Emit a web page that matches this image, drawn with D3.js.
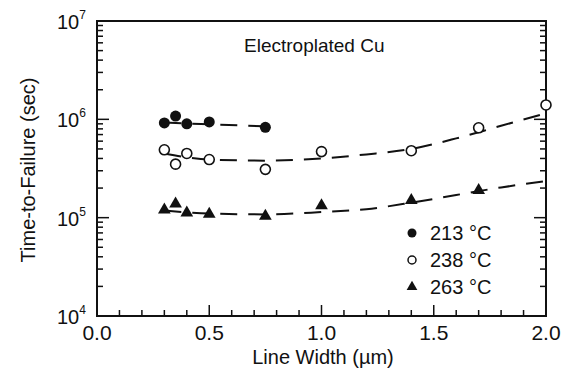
<!DOCTYPE html>
<html>
<head>
<meta charset="utf-8">
<script src="https://cdn.jsdelivr.net/npm/d3@7"></script>
<style>
  body { margin: 0; background: #fff; }
  text { font-family: "Liberation Sans", Arial, sans-serif; fill: #111; }
</style>
</head>
<body>
<svg id="chart"></svg>
<script>
// measured points, line width (um) vs time-to-failure (sec)
let widths213 = [0.3, 0.35, 0.4, 0.5, 0.75];
let ttf213 = [9.2e5, 1.08e6, 9.0e5, 9.4e5, 8.3e5];
let widths238 = [0.3, 0.35, 0.4, 0.5, 0.75, 1.0, 1.4, 1.7, 2.0];
let ttf238 = [4.9e5, 3.5e5, 4.5e5, 3.9e5, 3.1e5, 4.7e5, 4.8e5, 8.2e5, 1.4e6];
let widths263 = [0.3, 0.35, 0.4, 0.5, 0.75, 1.0, 1.4, 1.7];
let ttf263 = [1.2e5, 1.38e5, 1.12e5, 1.09e5, 1.04e5, 1.33e5, 1.5e5, 1.9e5];

// dashed trend curves
let fit213X = [0.3, 0.5, 0.75];
let fit213 = [9.3e5, 8.9e5, 8.5e5];
let fitX = [0.3, 0.5, 0.75, 1.0, 1.2, 1.4, 1.6, 1.8, 2.0];
let fit238 = [4.5e5, 3.9e5, 3.8e5, 4.0e5, 4.4e5, 5.0e5, 6.4e5, 8.6e5, 1.15e6];
let fit263 = [1.18e5, 1.1e5, 1.08e5, 1.14e5, 1.22e5, 1.42e5, 1.7e5, 2.03e5, 2.35e5];

let seriesLabels = ["213 \u00B0C", "238 \u00B0C", "263 \u00B0C"];
let xTickLabels = ["0.0", "0.5", "1.0", "1.5", "2.0"];
let yTickExps = [4, 5, 6, 7];

let svgWidth = 568;
let svgHeight = 373;
let svg = d3.select("#chart")
    .attr("width", svgWidth)
    .attr("height", svgHeight);

let x = d3.scaleLinear().domain([0, 2]).range([97, 546]);
let y = d3.scaleLog().domain([1e4, 1e7]).range([316, 21]);

// ticks
let minorX = d3.range(0, 2.001, 0.1).map(d => +d.toFixed(1));
let majorY = yTickExps.map(e => Math.pow(10, e));
let minorY = [];
[4, 5, 6].forEach(e => { for (let k = 2; k <= 9; k++) minorY.push(k * Math.pow(10, e)); });

let tickGroup = svg.append("g").attr("stroke", "#111").attr("stroke-width", 1.5);

// bottom ticks pointing up
tickGroup.selectAll(".xt").data(minorX).enter().append("line")
    .attr("x1", d => x(d)).attr("x2", d => x(d))
    .attr("y1", y(1e4))
    .attr("y2", d => y(1e4) - (Math.abs(d * 2 - Math.round(d * 2)) < 1e-6 ? 11 : 6));

// left and right ticks pointing inward
[x(0), x(2)].forEach((x0, side) => {
    let dir = side === 0 ? 1 : -1;
    tickGroup.selectAll(".ym" + side).data(majorY).enter().append("line")
        .attr("x1", x0).attr("x2", x0 + dir * 12)
        .attr("y1", d => y(d)).attr("y2", d => y(d));
    tickGroup.selectAll(".yn" + side).data(minorY).enter().append("line")
        .attr("x1", x0).attr("x2", x0 + dir * 6)
        .attr("y1", d => y(d)).attr("y2", d => y(d));
});

// frame
svg.append("rect")
    .attr("x", x(0)).attr("y", y(1e7))
    .attr("width", x(2) - x(0)).attr("height", y(1e4) - y(1e7))
    .attr("fill", "none").attr("stroke", "#111").attr("stroke-width", 2);

// tick labels
svg.selectAll(".xl").data(xTickLabels).enter().append("text")
    .attr("x", (d, i) => x(i * 0.5))
    .attr("y", 340)
    .attr("text-anchor", "middle")
    .attr("font-size", 21)
    .text(d => d);

let yl = svg.selectAll(".yl").data(yTickExps).enter().append("text")
    .attr("x", 57)
    .attr("y", d => y(Math.pow(10, d)) + 8)
    .attr("font-size", 20);
yl.append("tspan").text("10");
yl.append("tspan").attr("font-size", 12).attr("dy", -10).text(d => d);

// axis titles
svg.append("text")
    .attr("x", 323).attr("y", 364)
    .attr("text-anchor", "middle").attr("font-size", 20)
    .text("Line Width (\u00B5m)");
svg.append("text")
    .attr("transform", "translate(35,170) rotate(-90)")
    .attr("text-anchor", "middle").attr("font-size", 20)
    .text("Time-to-Failure (sec)");

svg.append("text")
    .attr("x", 244).attr("y", 52)
    .attr("font-size", 19)
    .text("Electroplated Cu");

// dashed curves
let line = d3.line().x(d => x(d[0])).y(d => y(d[1])).curve(d3.curveMonotoneX);
[[fit213X, fit213], [fitX, fit238], [fitX, fit263]].forEach(f => {
    svg.append("path")
        .attr("d", line(d3.zip(f[0], f[1])))
        .attr("fill", "none").attr("stroke", "#111")
        .attr("stroke-width", 2).attr("stroke-dasharray", "17,11");
});

// markers
svg.selectAll(".p213").data(d3.zip(widths213, ttf213)).enter().append("circle")
    .attr("cx", d => x(d[0])).attr("cy", d => y(d[1])).attr("r", 5.5)
    .attr("fill", "#111");
svg.selectAll(".p238").data(d3.zip(widths238, ttf238)).enter().append("circle")
    .attr("cx", d => x(d[0])).attr("cy", d => y(d[1])).attr("r", 5)
    .attr("fill", "#fff").attr("stroke", "#111").attr("stroke-width", 1.6);
let tri = d3.symbol().type(d3.symbolTriangle).size(70);
svg.selectAll(".p263").data(d3.zip(widths263, ttf263)).enter().append("path")
    .attr("d", tri)
    .attr("transform", d => "translate(" + x(d[0]) + "," + y(d[1]) + ")")
    .attr("fill", "#111");

// legend
let legY = [233, 260, 287];
let leg = svg.append("g");
leg.append("circle").attr("cx", 412).attr("cy", legY[0]).attr("r", 4.5).attr("fill", "#111");
leg.append("circle").attr("cx", 412).attr("cy", legY[1]).attr("r", 4)
    .attr("fill", "#fff").attr("stroke", "#111").attr("stroke-width", 1.5);
leg.append("path").attr("d", d3.symbol().type(d3.symbolTriangle).size(50))
    .attr("transform", "translate(412," + legY[2] + ")").attr("fill", "#111");
leg.selectAll("text").data(seriesLabels).enter().append("text")
    .attr("x", 430).attr("y", (d, i) => legY[i] + 7)
    .attr("font-size", 20)
    .text(d => d);
</script>
</body>
</html>
